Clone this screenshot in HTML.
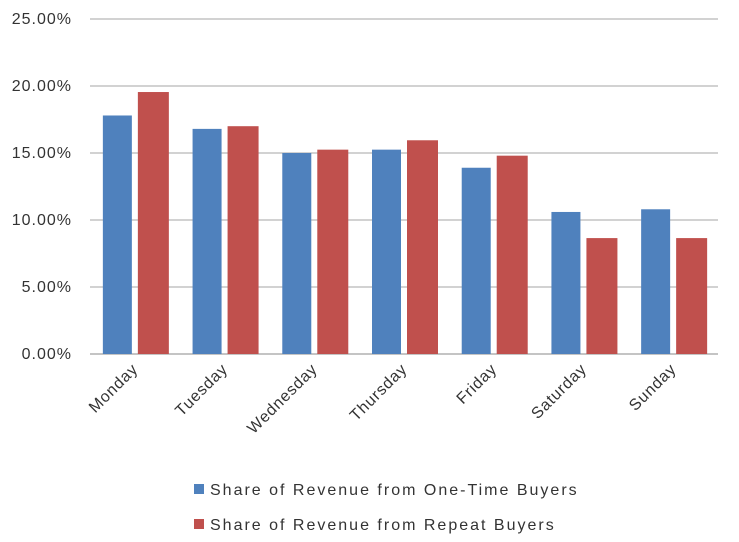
<!DOCTYPE html>
<html><head><meta charset="utf-8"><style>
body{margin:0;background:#fff;font-family:"Liberation Sans",sans-serif}
</style></head><body>
<svg id="chart" width="739" height="542" xmlns="http://www.w3.org/2000/svg" style="display:block;background:#fff">
<g id="grid"></g><g id="bars"></g><g id="labels"></g>
<g>
<rect x="194" y="484" width="10" height="10" fill="#4f81bd"/>
<text x="210" y="495" font-size="16" letter-spacing="2" fill="#333">Share of Revenue from One-Time Buyers</text>
<rect x="194" y="519" width="10" height="10" fill="#c0504d"/>
<text x="210" y="530" font-size="16" letter-spacing="2" fill="#333">Share of Revenue from Repeat Buyers</text>
</g>
</svg>
<script>
const categories=["Monday","Tuesday","Wednesday","Thursday","Friday","Saturday","Sunday"];
const oneTime=[17.8,16.8,15.0,15.25,13.9,10.6,10.8];
const repeat=[19.55,17.0,15.25,15.95,14.8,8.65,8.65];
const ticks=[0,5,10,15,20,25];
const NS="http://www.w3.org/2000/svg";
const x0=90,x1=718,y0=354,y25=19;
const y=v=>y0-(v/25)*(y0-y25);
const bw=(x1-x0)/categories.length;
const g=document.getElementById('grid'),b=document.getElementById('bars'),l=document.getElementById('labels');
function mk(t,a,p){const e=document.createElementNS(NS,t);for(const k in a)e.setAttribute(k,a[k]);p.appendChild(e);return e;}
ticks.forEach(t=>{
 const ln=mk('line',{x1:x0,x2:x1,y1:y(t),y2:y(t),stroke:t===0?'#888':'#a6a6a6','stroke-width':1},g);
 
 
 const tx=mk('text',{x:72,y:y(t)+5,'text-anchor':'end','font-size':16,'letter-spacing':1,fill:'#333'},g);
 
 
 tx.textContent=t.toFixed(2)+'%';
});
categories.forEach((c,i)=>{
 const cx=x0+bw*(i+0.5);
 const r1=mk('rect',{x:cx-32,y:y(oneTime[i]),width:29,height:y0-y(oneTime[i]),fill:'#4f81bd'},b);
 
 
 const r2=mk('rect',{x:cx+3,y:y(repeat[i]),width:31,height:y0-y(repeat[i]),fill:'#c0504d'},b);
 
 
 const tx=mk('text',{x:cx+4,y:y0+16,'text-anchor':'end','font-size':16,'letter-spacing':0.8,fill:'#333',transform:`rotate(-45 ${cx+4} ${y0+16})`},l);
 
 
 tx.textContent=c;
});
</script>
</body></html>
